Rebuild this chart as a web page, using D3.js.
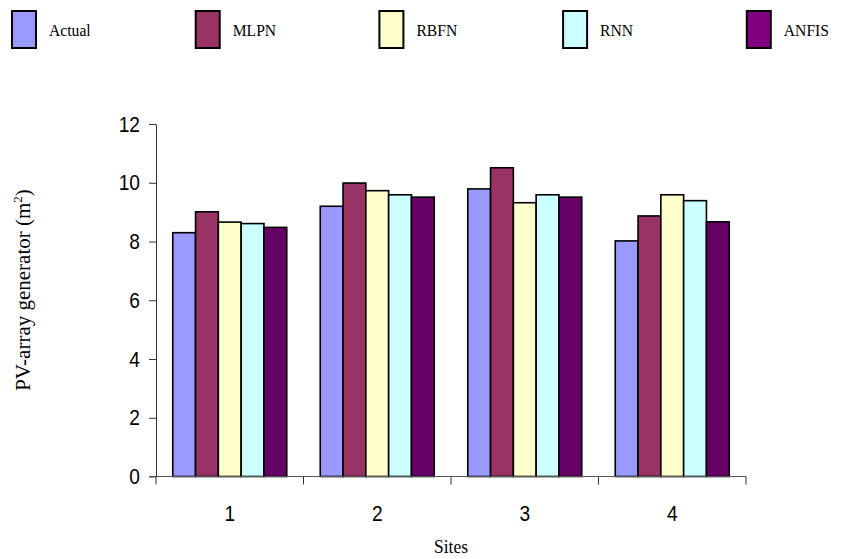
<!DOCTYPE html>
<html>
<head>
<meta charset="utf-8">
<script src="https://cdn.jsdelivr.net/npm/d3@7"></script>
<style>
  body { margin: 0; background: #fff; }
  svg { display: block; }
</style>
</head>
<body>
<div id="chart-area"></div>
<script>
// data
var sites = ['1', '2', '3', '4'];
var series = ['Actual', 'MLPN', 'RBFN', 'RNN', 'ANFIS'];
var actual = [8.30, 9.20, 9.79, 8.02];
var mlpn   = [9.01, 9.99, 10.51, 8.87];
var rbfn   = [8.66, 9.73, 9.32, 9.59];
var rnn    = [8.61, 9.59, 9.59, 9.39];
var anfis  = [8.48, 9.51, 9.51, 8.67];
var yTicks = [0, 2, 4, 6, 8, 10, 12];

var barColors = ['#9999ff', '#993366', '#ffffcc', '#ccffff', '#660066'];
var legendColors = ['#9999ff', '#993366', '#ffffcc', '#ccffff', '#800080'];

var values = [actual, mlpn, rbfn, rnn, anfis];
var data = sites.map(function(s, i) {
    return { site: s, vals: series.map(function(k, j) { return { key: k, idx: j, value: values[j][i] }; }) };
});

var width = 852, height = 559;
var plot = { left: 156, right: 746, top: 124, bottom: 476.5 };
var sx = 0.87; // the figure's fonts are a bit narrow

var svg = d3.select('#chart-area')
    .append('svg')
        .attr('width', width)
        .attr('height', height);

var x0 = d3.scaleBand()
    .domain(sites)
    .range([plot.left, plot.right])
    .paddingInner(0)
    .paddingOuter(0);

var x1 = d3.scaleBand()
    .domain(series)
    .range([0, x0.bandwidth()])
    .paddingInner(0)
    .paddingOuter(0.735);

var y = d3.scaleLinear()
    .domain([0, 12])
    .range([plot.bottom, plot.top]);

// bars
var groups = svg.selectAll('.site')
    .data(data)
    .enter().append('g')
        .attr('class', 'site')
        .attr('transform', function(d) { return 'translate(' + x0(d.site) + ',0)'; });

groups.selectAll('rect')
    .data(function(d) { return d.vals; })
    .enter().append('rect')
        .attr('x', function(d) { return x1(d.key); })
        .attr('y', function(d) { return y(d.value); })
        .attr('width', x1.bandwidth())
        .attr('height', function(d) { return plot.bottom - y(d.value); })
        .style('fill', function(d) { return barColors[d.idx]; })
        .style('stroke', '#000')
        .style('stroke-width', 1.6);

// y axis
var yAxisCall = d3.axisLeft(y)
    .tickValues(yTicks)
    .tickSize(7)
    .tickPadding(9)
    .tickSizeOuter(0);
var yAxis = svg.append('g')
    .attr('transform', 'translate(' + plot.left + ',0)')
    .call(yAxisCall);
yAxis.select('.domain').attr('stroke', '#333');
yAxis.selectAll('.tick line').attr('stroke', '#333');
yAxis.selectAll('.tick text')
    .attr('font-family', 'Liberation Sans, Arial, sans-serif')
    .attr('font-size', '22px')
    .attr('fill', '#000')
    .attr('x', -16 / sx)
    .attr('transform', 'scale(' + sx + ',1)');

// x axis, ticks at the category boundaries
var xAxisG = svg.append('g')
    .attr('transform', 'translate(0,' + plot.bottom + ')');
xAxisG.append('line')
    .attr('x1', plot.left - 7)
    .attr('x2', plot.right)
    .attr('stroke', '#555');
xAxisG.selectAll('.bound')
    .data(sites.concat(['end']))
    .enter().append('line')
        .attr('class', 'bound')
        .attr('x1', function(d, i) { return i < sites.length ? x0(d) : plot.right; })
        .attr('x2', function(d, i) { return i < sites.length ? x0(d) : plot.right; })
        .attr('y1', 0)
        .attr('y2', 8)
        .attr('stroke', '#333');
xAxisG.selectAll('.cat')
    .data(sites)
    .enter().append('text')
        .attr('class', 'cat')
        .attr('transform', function(d) {
            return 'translate(' + (x0(d) + x0.bandwidth() / 2) + ',44) scale(' + sx + ',1)';
        })
        .attr('text-anchor', 'middle')
        .attr('font-family', 'Liberation Sans, Arial, sans-serif')
        .attr('font-size', '22px')
        .text(function(d) { return d; });

// X-Axis Label
svg.append('text')
    .attr('text-anchor', 'middle')
    .attr('transform', 'translate(' + ((plot.left + plot.right) / 2) + ',553) scale(0.92,1)')
    .attr('font-family', 'Liberation Serif, Times New Roman, serif')
    .attr('font-size', '19px')
    .text('Sites');

// Y-Axis Label
var yLabel = svg.append('text')
    .attr('text-anchor', 'middle')
    .attr('transform', 'translate(30,290) rotate(-90)')
    .attr('font-family', 'Liberation Serif, Times New Roman, serif')
    .attr('font-size', '21px');
yLabel.append('tspan').text('PV-array generator (m');
yLabel.append('tspan').attr('dy', -8).attr('font-size', '13px').text('2');
yLabel.append('tspan').attr('dy', 8).text(')');

// legend
var legend = svg.selectAll('.legend')
    .data(series)
    .enter().append('g')
        .attr('class', 'legend')
        .attr('transform', function(d, i) { return 'translate(' + (12 + i * 183.7) + ',11)'; });

legend.append('rect')
    .attr('width', 24)
    .attr('height', 37)
    .style('fill', function(d, i) { return legendColors[i]; })
    .style('stroke', '#000')
    .style('stroke-width', 2);

legend.append('text')
    .attr('transform', 'translate(37,25) scale(0.92,1)')
    .attr('font-family', 'Liberation Serif, Times New Roman, serif')
    .attr('font-size', '17px')
    .text(function(d) { return d; });
</script>
</body>
</html>
